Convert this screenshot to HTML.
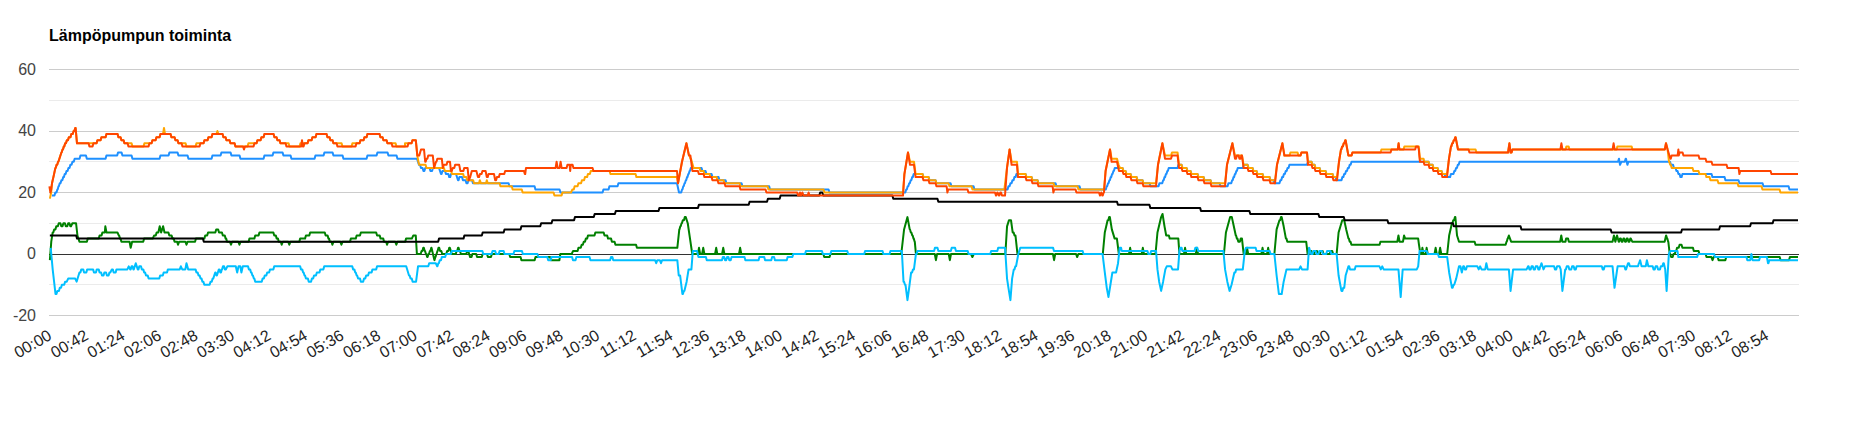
<!DOCTYPE html>
<html lang="fi"><head><meta charset="utf-8"><title>Lämpöpumpun toiminta</title>
<style>html,body{margin:0;padding:0;background:#fff}svg{display:block}text{font-family:"Liberation Sans",sans-serif}</style></head><body>
<svg width="1851" height="426" viewBox="0 0 1851 426">
<rect width="1851" height="426" fill="#ffffff"/>
<text x="49" y="40.5" font-size="16" font-weight="bold" fill="#000000">Lämpöpumpun toiminta</text>
<g shape-rendering="crispEdges">
<rect x="49" y="100" width="1750" height="1" fill="#ebebeb"/>
<rect x="49" y="161" width="1750" height="1" fill="#ebebeb"/>
<rect x="49" y="223" width="1750" height="1" fill="#ebebeb"/>
<rect x="49" y="284" width="1750" height="1" fill="#ebebeb"/>
<rect x="49" y="69" width="1750" height="1" fill="#cccccc"/>
<rect x="49" y="131" width="1750" height="1" fill="#cccccc"/>
<rect x="49" y="192" width="1750" height="1" fill="#cccccc"/>
<rect x="49" y="315" width="1750" height="1" fill="#cccccc"/>
</g>
<rect x="49" y="254" width="1750" height="1" fill="#333333" shape-rendering="crispEdges"/>
<polyline fill="none" stroke="#008000" stroke-width="2" stroke-linejoin="round" points="49.86,260.15 51.27,241.7 52.68,232.47 53.3,232.47 54.16,229.4 55.42,229.4 56.28,226.32 56.9,226.32 57.88,226.32 58.74,223.25 59.72,223.25 60.42,223.25 61.28,226.32 61.97,226.32 62.53,226.32 63.39,223.25 63.94,223.25 64.92,223.25 65.78,226.32 66.76,226.32 67.32,226.32 68.18,223.25 68.73,223.25 69.43,223.25 70.29,226.32 70.99,226.32 72.39,223.25 76.06,223.25 77.46,235.55 79.44,241.7 86.89,241.7 87.75,238.62 97.75,238.62 98.72,238.62 99.58,235.55 100.56,235.55 101.54,235.55 102.4,232.47 103.38,232.47 104.79,232.47 105.35,226.32 106.48,232.47 117.46,232.47 118.87,235.55 119.15,235.55 120.01,238.62 120.56,238.62 121.42,241.7 121.69,241.7 129.58,241.7 130.7,247.85 132.11,241.7 143.23,241.7 144.09,238.62 152.68,238.62 154.08,235.55 155.77,235.55 156.63,232.47 158.31,232.47 159.72,226.32 161.13,232.47 163.1,226.32 164.51,232.47 166.76,232.47 168.44,232.47 169.3,235.55 170.99,235.55 171.61,235.55 172.47,238.62 173.72,238.62 174.58,241.7 175.21,241.7 177.18,241.7 178.03,244.78 179.15,241.7 185.35,241.7 186.48,244.78 187.61,241.7 195.06,241.7 195.92,238.62 203.38,238.62 204.36,238.62 205.22,235.55 206.2,235.55 207.18,235.55 208.04,232.47 209.01,232.47 214.65,232.47 215.34,232.47 216.2,229.4 216.9,229.4 218.16,229.4 219.02,232.47 220.28,232.47 221.96,232.47 222.82,235.55 224.51,235.55 224.78,235.55 225.64,238.62 226.19,238.62 227.05,241.7 227.32,241.7 229.86,241.7 230.99,244.78 232.11,241.7 238.31,241.7 239.44,244.78 240.56,241.7 248.58,241.7 249.44,238.62 252.68,238.62 254.36,238.62 255.22,235.55 256.9,235.55 258.58,235.55 259.44,232.47 261.13,232.47 272.39,232.47 273.37,232.47 274.23,235.55 275.21,235.55 275.84,235.55 276.7,238.62 277.95,238.62 278.81,241.7 279.44,241.7 280.85,241.7 281.69,244.78 282.82,241.7 288.17,241.7 289.3,244.78 290.42,241.7 299.29,241.7 300.15,238.62 303.38,238.62 305.06,238.62 305.92,235.55 307.61,235.55 309.29,235.55 310.15,232.47 311.83,232.47 323.1,232.47 324.78,232.47 325.64,235.55 327.32,235.55 327.6,235.55 328.46,238.62 329.01,238.62 329.87,241.7 330.14,241.7 331.55,241.7 332.39,244.78 333.52,241.7 340.28,241.7 341.41,244.78 342.54,241.7 349.99,241.7 350.85,238.62 354.08,238.62 355.77,238.62 356.63,235.55 358.31,235.55 359.99,235.55 360.85,232.47 362.54,232.47 375.21,232.47 376.19,232.47 377.05,235.55 378.03,235.55 379.71,235.55 380.57,238.62 382.25,238.62 383.23,238.62 384.09,241.7 385.07,241.7 386.2,241.7 387.04,244.78 388.17,241.7 395.21,241.7 396.34,244.78 397.46,241.7 405.2,241.7 406.06,238.62 411.83,238.62 413.24,235.55 414.65,235.55 415.77,235.55 416.9,254 420.28,254 420.7,254 421.56,250.93 422.39,250.93 423.25,247.85 423.66,247.85 423.84,247.85 424.7,250.93 425.06,250.93 425.92,254 426.28,254 427.14,257.07 427.32,257.07 427.6,257.07 428.46,254 429.01,254 429.87,250.93 430.42,250.93 431.28,247.85 431.55,247.85 434.37,260.15 434.46,260.15 435.32,257.07 435.52,257.07 436.38,254 436.58,254 437.44,250.93 437.63,250.93 438.49,247.85 438.59,247.85 439.22,247.85 440.08,250.93 441.33,250.93 442.19,254 442.82,254 445.63,254 446.26,254 447.12,250.93 448.37,250.93 449.23,247.85 449.86,247.85 451.83,254 455.49,254 455.77,254 456.63,250.93 457.18,250.93 458.04,247.85 458.31,247.85 458.58,247.85 459.44,250.93 459.99,250.93 460.85,254 461.13,254 465.35,254 466.33,254 467.19,250.93 468.17,250.93 470.14,257.07 471.54,257.07 472.4,254 473.8,254 476.19,254 477.05,257.07 479.44,257.07 481.82,257.07 482.68,254 485.07,254 487.03,254 487.89,257.07 489.86,257.07 490,257.07 490.98,257.07 491.84,254 492.82,254 495.63,254 498.45,254 501.27,254 509.72,254 509.29,254 510.15,257.07 520.56,257.07 521.42,260.15 534.64,260.15 535.5,257.07 550.13,257.07 550.99,260.15 559.43,260.15 560.29,254 571.69,254 573.1,250.93 575.92,250.93 577.6,250.93 578.46,247.85 580.14,247.85 580.77,247.85 581.63,244.78 582.88,244.78 583.74,241.7 584.37,241.7 584.99,241.7 585.85,238.62 587.11,238.62 587.97,235.55 588.59,235.55 592.82,235.55 594.5,235.55 595.36,232.47 597.04,232.47 602.68,232.47 603.65,232.47 604.51,235.55 605.49,235.55 607.18,235.55 608.04,238.62 609.72,238.62 611.05,238.62 611.91,241.7 614.57,241.7 615.43,244.78 616.76,244.78 636.05,244.78 636.91,247.85 677.32,247.85 679.3,229.4 679.48,229.4 680.34,226.32 680.7,226.32 681.56,223.25 681.92,223.25 682.78,220.18 682.96,220.18 683.94,220.18 684.8,217.1 685.77,217.1 687.75,223.25 690,238.62 692.25,254 697.89,254 699.01,247.85 700.14,254 702.11,254 703.24,247.85 704.37,254 715.07,254 716.2,247.85 717.32,254 722.11,254 723.24,247.85 724.37,254 739.01,254 740.14,247.85 741.27,254 792.82,254 794.23,254 823.37,254 824.23,257.07 829.57,257.07 830.43,254 901.27,254 904.08,229.4 907.46,217.1 909.72,229.4 909.99,229.4 910.85,232.47 911.4,232.47 912.26,235.55 912.54,235.55 912.67,235.55 913.53,238.62 913.8,238.62 914.66,241.7 914.79,241.7 915.92,254 934.79,254 935.92,260.15 937.04,254 939.86,254 940,254 948.73,254 949.86,260.15 950.99,254 970.99,254 972.39,257.07 973.8,254 1005.35,254 1007.04,226.32 1009.01,220.18 1010.99,220.18 1012.68,232.47 1013.65,232.47 1014.51,235.55 1015.49,235.55 1017.46,254 1018.87,254 1052.96,254 1054.08,260.15 1055.21,254 1076.06,254 1077.18,257.07 1078.31,254 1102.82,254 1104.79,232.47 1107.61,220.18 1108.3,220.18 1109.16,217.1 1109.86,217.1 1111.83,229.4 1114.65,238.62 1116.9,238.62 1118.87,254 1120.28,254 1129.01,254 1130.14,247.85 1131.27,254 1141.69,254 1142.82,247.85 1143.94,254 1155.49,254 1157.46,232.47 1161.13,217.1 1162.54,214.03 1164.51,226.32 1166.2,235.55 1168.17,235.55 1168.87,235.55 1169.73,238.62 1170.42,238.62 1176.06,238.62 1178.31,238.62 1179.44,254 1180.85,254 1183.94,254 1185.07,247.85 1186.2,254 1195.77,254 1196.9,247.85 1198.03,254 1223.1,254 1223.94,254 1225.92,232.47 1230.14,217.1 1231.83,217.1 1233.8,226.32 1235.77,235.55 1236.05,235.55 1236.91,238.62 1237.46,238.62 1238.32,241.7 1238.59,241.7 1239.85,241.7 1240.71,238.62 1241.97,238.62 1243.66,254 1244.79,254 1245.92,254 1247.04,247.85 1248.17,254 1261.41,254 1262.54,247.85 1263.66,254 1267.04,254 1268.17,247.85 1269.3,254 1273.8,254 1274.37,254 1276.62,229.4 1279.44,220.18 1280.13,220.18 1280.99,217.1 1281.69,217.1 1283.66,226.32 1285.92,238.62 1286.47,238.62 1287.33,241.7 1287.89,241.7 1306.2,241.7 1307.61,254 1308.58,254 1309.44,250.93 1310.42,250.93 1311.4,250.93 1312.26,254 1313.24,254 1314.22,254 1315.08,250.93 1316.06,250.93 1317.03,250.93 1317.89,254 1318.87,254 1319.85,254 1320.71,250.93 1321.69,250.93 1322.67,250.93 1323.53,254 1324.51,254 1328.73,254 1329.71,254 1330.57,250.93 1331.55,250.93 1332.25,250.93 1333.11,254 1333.8,254 1336.62,254 1338.59,232.47 1342.25,220.18 1344.23,220.18 1346.2,229.4 1348.45,238.62 1348.87,238.62 1349.73,241.7 1350.56,241.7 1351.42,244.78 1351.83,244.78 1379.57,244.78 1380.43,241.7 1390,241.7 1397.32,241.7 1398.45,235.55 1399.58,241.7 1402.96,241.7 1404.08,235.55 1405.21,238.62 1418.17,238.62 1419.01,244.78 1420.42,254 1421.55,254 1422.39,247.85 1423.52,254 1425.77,254 1426.62,247.85 1427.75,254 1434.51,254 1435.63,247.85 1436.76,254 1439.01,254 1440.14,247.85 1441.27,254 1446.34,254 1447.18,254 1449.15,235.55 1451.97,223.25 1452.39,223.25 1453.25,220.18 1454.08,220.18 1454.94,217.1 1455.35,217.1 1457.04,235.55 1459.01,241.7 1474.64,241.7 1475.5,244.78 1505.49,244.78 1505.63,244.78 1506.49,241.7 1506.75,241.7 1507.61,238.62 1507.75,238.62 1508.87,235.55 1510,238.62 1511.13,241.7 1560.14,241.7 1561.27,235.55 1562.39,241.7 1565.49,241.7 1566.06,238.62 1568.03,238.62 1568.87,241.7 1612.54,241.7 1613.94,235.55 1615.35,241.7 1617.04,235.55 1618.73,241.7 1619.15,241.7 1620.01,238.62 1620.42,238.62 1620.84,238.62 1621.7,241.7 1622.11,241.7 1622.53,241.7 1623.39,238.62 1623.8,238.62 1624.22,238.62 1625.08,241.7 1625.49,241.7 1625.91,241.7 1626.77,238.62 1627.18,238.62 1627.6,238.62 1628.46,241.7 1628.87,241.7 1629.43,241.7 1630.29,238.62 1630.85,238.62 1632.25,241.7 1664.65,241.7 1666.06,235.55 1666.19,235.55 1667.05,238.62 1667.32,238.62 1668.18,241.7 1668.31,241.7 1669.72,254 1670.27,254 1671.13,257.07 1671.69,257.07 1672.67,257.07 1673.53,254 1674.51,254 1674.78,254 1675.64,250.93 1676.19,250.93 1677.05,247.85 1677.32,247.85 1678.72,247.85 1679.58,244.78 1680.99,244.78 1681.54,244.78 1682.4,247.85 1682.96,247.85 1692.95,247.85 1693.81,250.93 1698.58,250.93 1699.44,254 1705.63,254 1706.49,257.07 1711.41,257.07 1712.54,260.15 1713.66,257.07 1717.74,257.07 1718.6,260.15 1725.34,260.15 1726.2,257.07 1779.71,257.07 1780.57,260.15 1789.01,260.15 1789.87,257.07 1798,257.07"/>
<polyline fill="none" stroke="#00bfff" stroke-width="2" stroke-linejoin="round" points="50.7,247.85 52.68,269.38 55.49,293.98 56.47,293.98 57.33,290.9 58.31,290.9 58.94,290.9 59.8,287.82 61.05,287.82 61.91,284.75 62.54,284.75 64.22,284.75 65.08,281.68 66.76,281.68 68.17,278.6 75.21,278.6 76.62,281.68 79.44,272.45 80.42,272.45 81.28,269.38 82.25,269.38 83.23,269.38 84.09,272.45 85.07,272.45 86.33,272.45 87.19,269.38 88.45,269.38 92.11,269.38 93.09,269.38 93.95,272.45 94.93,272.45 95.91,272.45 96.77,269.38 97.75,269.38 98.72,269.38 99.58,272.45 100.56,272.45 101.12,272.45 101.98,275.52 102.54,275.52 103.51,275.52 104.37,272.45 105.35,272.45 106.05,272.45 106.91,275.52 107.61,275.52 108.58,275.52 109.44,272.45 110.42,272.45 111.83,269.38 112.81,269.38 113.67,272.45 114.65,272.45 115.63,272.45 116.49,269.38 117.46,269.38 120.28,269.38 127.32,269.38 128.73,266.3 130.14,269.38 130.7,269.38 131.56,266.3 132.11,266.3 132.53,266.3 133.39,269.38 133.8,269.38 135.77,263.23 137.75,269.38 138.44,269.38 139.3,266.3 140,266.3 140.98,266.3 141.84,269.38 142.82,269.38 143.3,269.38 144.16,272.45 145.13,272.45 145.99,275.52 146.48,275.52 147.74,275.52 148.6,278.6 149.86,278.6 158.31,278.6 159.29,278.6 160.15,275.52 161.13,275.52 162.81,275.52 163.67,272.45 165.35,272.45 167.03,272.45 167.89,269.38 169.58,269.38 179.72,269.38 180.85,266.3 182.25,269.38 185.35,269.38 186.48,263.23 188.17,269.38 194.93,269.38 195.56,269.38 196.42,272.45 197.67,272.45 198.53,275.52 199.15,275.52 199.66,275.52 200.52,278.6 201.54,278.6 202.4,281.68 203.42,281.68 204.28,284.75 204.79,284.75 209.01,284.75 209.64,284.75 210.5,281.68 211.75,281.68 212.61,278.6 213.24,278.6 215.21,272.45 215.63,272.45 216.49,275.52 216.9,275.52 218.87,269.38 219.43,269.38 220.29,272.45 220.85,272.45 220.98,272.45 221.84,269.38 222.11,269.38 222.97,266.3 223.1,266.3 224.08,266.3 224.94,269.38 225.92,269.38 227.32,266.3 235.77,266.3 237.18,272.45 238.59,266.3 240.28,266.3 241.41,272.45 242.82,266.3 247.04,266.3 248.02,266.3 248.88,269.38 249.86,269.38 250.13,269.38 250.99,272.45 251.54,272.45 252.4,275.52 252.95,275.52 253.81,278.6 254.36,278.6 255.22,281.68 255.49,281.68 261.13,281.68 261.75,281.68 262.61,278.6 263.87,278.6 264.73,275.52 265.35,275.52 266.33,275.52 267.19,272.45 269.15,272.45 270.01,269.38 270.99,269.38 273.37,269.38 274.23,266.3 276.62,266.3 299.15,266.3 300.13,266.3 300.99,269.38 301.97,269.38 302.25,269.38 303.11,272.45 303.65,272.45 304.51,275.52 305.06,275.52 305.92,278.6 306.2,278.6 307.88,278.6 308.74,281.68 310.42,281.68 311.05,281.68 311.91,278.6 313.16,278.6 314.02,275.52 314.65,275.52 315.98,275.52 316.84,272.45 319.5,272.45 320.36,269.38 321.69,269.38 323.37,269.38 324.23,266.3 325.92,266.3 351.27,266.3 352.25,266.3 353.11,269.38 354.08,269.38 354.36,269.38 355.22,272.45 355.77,272.45 356.63,275.52 357.18,275.52 358.04,278.6 358.31,278.6 359.99,278.6 360.85,281.68 362.54,281.68 363.16,281.68 364.02,278.6 365.27,278.6 366.13,275.52 366.76,275.52 368.09,275.52 368.95,272.45 371.61,272.45 372.47,269.38 373.8,269.38 376.19,269.38 377.05,266.3 379.44,266.3 406.2,266.3 409.01,275.52 409.64,275.52 410.5,278.6 411.75,278.6 412.61,281.68 413.24,281.68 416.06,281.68 418.03,266.3 427.32,266.3 428.3,266.3 429.16,263.23 430.14,263.23 435.77,263.23 437.18,266.3 437.46,266.3 438.32,263.23 438.87,263.23 439.73,260.15 440,260.15 440.98,260.15 441.84,257.07 442.82,257.07 445.2,257.07 446.06,254 448.45,254 450.84,254 451.7,250.93 454.08,250.93 482.39,250.93 483.25,254 490,254 491.68,254 492.54,250.93 494.23,250.93 495.2,250.93 496.06,254 497.04,254 498.72,254 499.58,250.93 501.27,250.93 503.65,250.93 504.51,254 506.9,254 506.47,254 507.33,254 513.51,254 514.37,250.93 521.96,250.93 522.82,254 537.46,254 538.32,257.07 547.32,257.07 548.18,260.15 550.7,260.15 551.56,257.07 572.11,257.07 572.97,260.15 575.49,260.15 576.35,257.07 589.57,257.07 590.43,260.15 610.13,260.15 610.99,257.07 612.39,257.07 613.25,260.15 655.07,260.15 656.2,263.23 657.32,260.15 659.86,260.15 660.99,263.23 662.11,260.15 676.48,260.15 677.32,260.15 678.73,275.52 680.14,275.52 682.39,293.98 682.95,293.98 683.81,290.9 684.37,290.9 686.62,281.68 688.59,269.38 691.41,269.38 692.82,250.93 697.04,250.93 698.45,257.07 705.91,257.07 706.77,260.15 721.96,260.15 722.82,257.07 724.22,257.07 725.08,260.15 726.19,260.15 727.05,257.07 728.44,257.07 729.3,260.15 730.7,260.15 731.56,257.07 744.5,257.07 745.36,260.15 758.58,260.15 759.44,257.07 764.22,257.07 765.08,260.15 771.26,260.15 772.12,257.07 774.08,257.07 774.94,260.15 786.75,260.15 787.61,257.07 792.39,257.07 793.25,254 805.06,254 805.92,250.93 821.96,250.93 822.82,254 830.42,254 831.28,250.93 847.32,250.93 848.18,254 864.22,254 865.08,250.93 882.53,250.93 883.39,254 889.57,254 890.43,250.93 901.27,250.93 901.83,250.93 903.52,281.68 904.08,281.68 904.94,284.75 905.49,284.75 907.46,300.12 909.15,287.82 911.13,272.45 912.11,272.45 912.97,269.38 913.94,269.38 915.92,254 916.61,254 917.47,250.93 918.17,250.93 934.08,250.93 934.94,247.85 937.46,247.85 938.32,250.93 940,250.93 950.84,250.93 951.7,247.85 955.06,247.85 955.92,250.93 967.74,250.93 968.6,254 990.27,254 991.13,250.93 997.32,250.93 998.18,247.85 1005.07,247.85 1007.04,278.6 1008.45,287.82 1010.42,300.12 1012.11,278.6 1013.8,269.38 1014.5,269.38 1015.36,266.3 1016.06,266.3 1018.31,254 1020.28,247.85 1053.09,247.85 1053.95,250.93 1082.67,250.93 1083.53,254 1102.54,254 1104.79,272.45 1106.76,287.82 1108.45,297.05 1110.42,284.75 1112.39,272.45 1116.06,272.45 1118.03,263.23 1119.72,247.85 1121.13,247.85 1121.69,250.93 1147.46,250.93 1148.32,254 1150.27,254 1151.13,250.93 1156.06,250.93 1157.46,269.38 1159.15,281.68 1161.13,290.9 1163.1,281.68 1165.35,269.38 1166.76,266.3 1170.99,266.3 1172.39,269.38 1178.03,269.38 1179.44,250.93 1180.28,247.85 1181.69,247.85 1182.25,250.93 1194.5,250.93 1195.36,247.85 1197.32,247.85 1198.18,250.93 1223.38,250.93 1225.07,269.38 1227.32,281.68 1229.58,290.9 1231.55,284.75 1234.37,272.45 1235.34,272.45 1236.2,269.38 1237.18,269.38 1242.82,269.38 1244.79,250.93 1245.92,247.85 1255.63,247.85 1256.49,250.93 1269.71,250.93 1270.57,254 1274.37,254 1276.62,275.52 1278.87,293.98 1281.69,293.98 1283.66,281.68 1286.48,269.38 1299.15,269.38 1300.56,266.3 1301.97,269.38 1307.61,269.38 1309.01,247.85 1309.15,247.85 1310.01,250.93 1310.27,250.93 1311.13,254 1311.27,254 1312.53,254 1313.39,250.93 1314.65,250.93 1315.63,250.93 1316.49,254 1317.46,254 1318.44,254 1319.3,250.93 1320.28,250.93 1321.96,250.93 1322.82,254 1324.51,254 1326.19,254 1327.05,250.93 1328.73,250.93 1330.42,250.93 1331.28,254 1332.96,254 1335.77,254 1336.62,254 1338.59,275.52 1341.41,290.9 1342.39,290.9 1343.25,287.82 1344.23,287.82 1345.63,275.52 1348.45,266.3 1349.15,266.3 1350.01,269.38 1350.7,269.38 1354.08,269.38 1354.78,269.38 1355.64,266.3 1356.34,266.3 1358.31,266.3 1378.03,266.3 1379.44,266.3 1380.85,269.38 1382.25,266.3 1383.66,269.38 1385.07,269.38 1389.86,269.38 1390,269.38 1398.45,269.38 1400.7,297.05 1402.68,269.38 1416.76,269.38 1418.17,266.3 1419.58,250.93 1426.75,250.93 1427.61,254 1438.02,254 1438.88,257.07 1447.18,257.07 1449.15,272.45 1451.97,287.82 1452.67,287.82 1453.53,284.75 1454.23,284.75 1456.2,278.6 1459.01,266.3 1460.42,266.3 1461.83,272.45 1463.24,266.3 1463.94,266.3 1464.8,269.38 1465.49,269.38 1466.05,269.38 1466.91,266.3 1467.46,266.3 1475.92,266.3 1477.32,266.3 1478.73,269.38 1480.14,266.3 1481.55,269.38 1485.21,269.38 1486.34,263.23 1487.75,269.38 1508.87,269.38 1510.56,290.9 1513.1,269.38 1526.62,269.38 1528.03,266.3 1528.58,266.3 1529.44,269.38 1530,269.38 1530.7,269.38 1531.56,266.3 1532.25,266.3 1532.81,266.3 1533.67,269.38 1534.23,269.38 1534.92,269.38 1535.78,266.3 1536.48,266.3 1537.46,266.3 1538.32,269.38 1539.3,269.38 1539.43,269.38 1540.29,266.3 1540.56,266.3 1541.42,263.23 1541.55,263.23 1543.52,269.38 1544.93,266.3 1553.38,266.3 1554.08,266.3 1554.94,269.38 1555.63,269.38 1556.19,269.38 1557.05,266.3 1557.61,266.3 1559.58,266.3 1560.7,269.38 1562.39,290.9 1565.21,269.38 1565.91,269.38 1566.77,266.3 1567.46,266.3 1568.44,266.3 1569.3,269.38 1570.28,269.38 1571.26,269.38 1572.12,266.3 1573.1,266.3 1573.65,266.3 1574.51,269.38 1575.07,269.38 1575.77,269.38 1576.63,266.3 1577.32,266.3 1601.27,266.3 1601.82,266.3 1602.68,269.38 1603.24,269.38 1603.8,269.38 1604.66,266.3 1605.21,266.3 1612.54,266.3 1614.51,287.82 1617.61,266.3 1620.99,266.3 1623.8,266.3 1624.5,266.3 1625.36,269.38 1626.06,269.38 1628.03,263.23 1629.01,263.23 1629.87,266.3 1630.85,266.3 1633.66,266.3 1637.89,266.3 1638.02,266.3 1638.88,263.23 1639.15,263.23 1640.01,260.15 1640.14,260.15 1641.55,266.3 1645.77,266.3 1646.9,260.15 1648.31,266.3 1651.97,266.3 1652.67,266.3 1653.53,269.38 1654.23,269.38 1654.78,269.38 1655.64,266.3 1656.2,266.3 1657.18,266.3 1658.04,269.38 1659.01,269.38 1659.99,269.38 1660.85,266.3 1661.83,266.3 1662.39,266.3 1663.25,263.23 1663.8,263.23 1665.21,269.38 1666.62,290.9 1668.87,254 1670.28,250.93 1677.46,250.93 1678.32,257.07 1697.18,257.07 1698.04,254 1714.08,254 1714.94,257.07 1746.47,257.07 1747.33,260.15 1750.28,260.15 1751.41,254 1752.54,260.15 1759.15,260.15 1760.01,257.07 1766.9,257.07 1768.03,263.23 1768.44,263.23 1769.3,260.15 1769.72,260.15 1798,260.15"/>
<polyline fill="none" stroke="#000000" stroke-width="2" stroke-linejoin="round" points="49.86,235.55 76.19,235.55 77.05,238.62 202.95,238.62 203.81,241.7 438.16,241.7 439.02,238.62 463.51,238.62 464.37,235.55 481.82,235.55 482.68,232.47 490,232.47 503.65,232.47 504.51,229.4 520.56,229.4 521.42,226.32 540.27,226.32 541.13,223.25 551.54,223.25 552.4,220.18 574.08,220.18 574.94,217.1 593.8,217.1 594.66,214.03 614.92,214.03 615.78,210.95 658.58,210.95 659.44,207.88 698.02,207.88 698.88,204.8 748.72,204.8 749.58,201.72 767.03,201.72 767.89,198.65 779.71,198.65 780.57,195.57 819.3,195.57 820.14,192.5 822.39,192.5 823.24,195.57 892.39,195.57 893.25,198.65 937.46,198.65 938.32,201.72 940,201.72 1117.03,201.72 1117.89,204.8 1149.43,204.8 1150.29,207.88 1200.13,207.88 1200.99,210.95 1249.43,210.95 1250.29,214.03 1318.44,214.03 1319.3,217.1 1343.8,217.1 1344.66,220.18 1387.46,220.18 1388.32,223.25 1390,223.25 1452.95,223.25 1453.81,226.32 1520.56,226.32 1521.42,229.4 1610.7,229.4 1611.56,232.47 1681.12,232.47 1681.98,229.4 1719.15,229.4 1720.01,226.32 1750.13,226.32 1750.99,223.25 1772.67,223.25 1773.53,220.18 1798,220.18"/>
<polyline fill="none" stroke="#1e90ff" stroke-width="2" stroke-linejoin="round" points="52,195.57 52.5,195.57 53.5,195.57 54.47,195.57 55.33,192.5 56.3,192.5 56.47,192.5 57.33,189.43 57.67,189.43 58.53,186.35 58.87,186.35 59.73,183.28 59.9,183.28 60.52,183.28 61.38,180.2 62,180.2 62.34,180.2 63.2,177.12 63.89,177.12 64.75,174.05 65.1,174.05 65.64,174.05 66.5,170.97 67.57,170.97 68.43,167.9 69.5,167.9 70.36,164.82 70.9,164.82 71.57,164.82 72.43,161.75 73.77,161.75 74.63,158.68 75.3,158.68 77.4,158.68 79.57,158.68 80.43,155.6 85.97,155.6 86.83,158.68 105.57,158.68 106.43,155.6 117.17,155.6 118.03,152.53 121.57,152.53 122.43,155.6 131.57,155.6 132.43,158.68 159.57,158.68 160.43,155.6 168.57,155.6 169.43,152.53 177.57,152.53 178.43,155.6 187.57,155.6 188.43,158.68 211.57,158.68 212.43,155.6 220.57,155.6 221.43,152.53 230.57,152.53 231.43,155.6 239.57,155.6 240.43,158.68 263.57,158.68 264.43,155.6 272.57,155.6 273.43,152.53 282.57,152.53 283.43,155.6 290.57,155.6 291.43,158.68 314.57,158.68 315.43,155.6 323.57,155.6 324.43,152.53 332.57,152.53 333.43,155.6 342.57,155.6 343.43,158.68 366.57,158.68 367.43,155.6 376.57,155.6 377.43,152.53 387.57,152.53 388.43,155.6 396.57,155.6 397.43,158.68 405,158.68 417,158.68 419,164.82 420.07,164.82 420.93,167.9 422,167.9 422.57,167.9 423.43,170.97 424,170.97 424.37,170.97 425.23,167.9 425.6,167.9 429,167.9 429.57,167.9 430.43,170.97 431,170.97 432.07,170.97 432.93,167.9 434,167.9 439,167.9 441,174.05 441.57,174.05 442.43,170.97 443,170.97 445.07,170.97 445.93,174.05 448,174.05 448.37,174.05 449.23,177.12 449.6,177.12 450.17,177.12 451.03,174.05 451.6,174.05 456,174.05 458,180.2 458.57,180.2 459.43,177.12 460,177.12 462.07,177.12 462.93,180.2 465,180.2 465.57,180.2 466.43,183.28 467,183.28 467.57,183.28 468.43,180.2 469,180.2 472.07,180.2 472.93,183.28 476,183.28 496,183.28 508.57,183.28 509.43,186.35 534.57,186.35 535.43,189.43 559.57,189.43 560.43,192.5 602.57,192.5 603.43,189.43 608.57,189.43 609.43,186.35 617.57,186.35 618.43,183.28 677,183.28 679,192.5 681,192.5 681.2,192.5 682.05,189.43 682.45,189.43 683.3,186.35 683.7,186.35 684.55,183.28 684.95,183.28 685.8,180.2 686.2,180.2 687.05,177.12 687.45,177.12 688.3,174.05 688.7,174.05 689.55,170.97 689.95,170.97 690.8,167.9 691,167.9 701.57,167.9 702.43,170.97 705.57,170.97 706.43,174.05 711.57,174.05 712.43,177.12 718.57,177.12 719.43,180.2 725.57,180.2 726.43,183.28 741.57,183.28 742.43,186.35 765,186.35 769.17,186.35 770.03,189.43 828.57,189.43 829.43,192.5 905,192.5 905.32,192.5 906.18,189.43 906.82,189.43 907.68,186.35 908.32,186.35 909.18,183.28 909.82,183.28 910.68,180.2 911.32,180.2 912.18,177.12 912.82,177.12 913.68,174.05 914,174.05 915.6,174.05 922.57,174.05 923.43,177.12 928.57,177.12 929.43,180.2 935.57,180.2 936.43,183.28 950.57,183.28 951.43,186.35 973.57,186.35 974.43,189.43 1007,189.43 1007.57,189.43 1008.43,186.35 1009.57,186.35 1010.43,183.28 1011.57,183.28 1012.43,180.2 1013.57,180.2 1014.43,177.12 1015.57,177.12 1016.43,174.05 1017,174.05 1025.57,174.05 1026.43,177.12 1031.57,177.12 1032.43,180.2 1037.57,180.2 1038.43,183.28 1055.57,183.28 1056.43,186.35 1079.57,186.35 1080.43,189.43 1105.6,189.43 1105.84,189.43 1106.7,186.35 1107.18,186.35 1108.04,183.28 1108.53,183.28 1109.39,180.2 1109.87,180.2 1110.73,177.12 1111.21,177.12 1112.07,174.05 1112.56,174.05 1113.42,170.97 1113.9,170.97 1114.76,167.9 1115,167.9 1118,167.9 1120,167.9 1122.57,167.9 1123.43,170.97 1125.57,170.97 1126.43,174.05 1130.57,174.05 1131.43,177.12 1136.57,177.12 1137.43,180.2 1142.57,180.2 1143.43,183.28 1149.57,183.28 1150.43,186.35 1158.6,186.35 1159.4,183.28 1162,183.28 1162.27,183.28 1163.13,180.2 1163.67,180.2 1164.53,177.12 1165.07,177.12 1165.93,174.05 1166.47,174.05 1167.33,170.97 1167.87,170.97 1168.73,167.9 1169,167.9 1177.6,167.9 1178.4,164.82 1181.57,164.82 1182.43,167.9 1186.57,167.9 1187.43,170.97 1190.57,170.97 1191.43,174.05 1197.57,174.05 1198.43,177.12 1203.57,177.12 1204.43,180.2 1210.57,180.2 1211.43,183.28 1219.57,183.28 1220.43,186.35 1227.6,186.35 1228.4,183.28 1231,183.28 1231.27,183.28 1232.13,180.2 1232.67,180.2 1233.53,177.12 1234.07,177.12 1234.93,174.05 1235.47,174.05 1236.33,170.97 1236.87,170.97 1237.73,167.9 1238,167.9 1243,167.9 1243.6,164.82 1247.57,164.82 1248.43,167.9 1252.57,167.9 1253.43,170.97 1256.57,170.97 1257.43,174.05 1262.57,174.05 1263.43,177.12 1269.57,177.12 1270.43,180.2 1273.57,180.2 1274.43,183.28 1279,183.28 1279.47,183.28 1280.33,180.2 1281.27,180.2 1282.13,177.12 1283.07,177.12 1283.93,174.05 1284.87,174.05 1285.73,170.97 1286.67,170.97 1287.53,167.9 1288,167.9 1288.57,167.9 1289.43,164.82 1290,164.82 1307,164.82 1308,161.75 1311.57,161.75 1312.43,164.82 1314.57,164.82 1315.43,167.9 1319.57,167.9 1320.43,170.97 1325.57,170.97 1326.43,174.05 1332.57,174.05 1333.43,177.12 1335.57,177.12 1336.43,180.2 1341,180.2 1341.49,180.2 1342.35,177.12 1343.32,177.12 1344.18,174.05 1345.15,174.05 1346.01,170.97 1346.99,170.97 1347.85,167.9 1348.82,167.9 1349.68,164.82 1350.65,164.82 1351.51,161.75 1352,161.75 1428.57,161.75 1429.43,164.82 1432.57,164.82 1433.43,167.9 1437.57,167.9 1438.43,170.97 1441.57,170.97 1442.43,174.05 1444.57,174.05 1445.43,177.12 1448,177.12 1450.07,177.12 1450.93,174.05 1453,174.05 1453.44,174.05 1454.31,170.97 1455.19,170.97 1456.06,167.9 1456.94,167.9 1457.81,164.82 1458.69,164.82 1459.56,161.75 1460,161.75 1485,161.75 1618,161.75 1619,158.68 1620,164.82 1621.4,161.75 1623,161.75 1624.4,161.75 1624.77,161.75 1625.63,158.68 1626,158.68 1627.4,164.82 1628.4,161.75 1669,161.75 1670.07,161.75 1670.93,164.82 1673.07,164.82 1673.93,167.9 1675,167.9 1675.57,167.9 1676.43,170.97 1677.57,170.97 1678.43,174.05 1679.57,174.05 1680.43,177.12 1681,177.12 1681.57,177.12 1682.43,174.05 1683,174.05 1711.57,174.05 1712.43,177.12 1724.57,177.12 1725.43,180.2 1738.57,180.2 1739.43,183.28 1762.57,183.28 1763.43,186.35 1788.57,186.35 1789.43,189.43 1798,189.43"/>
<polyline fill="none" stroke="#ffa500" stroke-width="2" stroke-linejoin="round" points="49.9,198.65 51.2,192.5 52,183.28 53.4,177.12 55.4,167.9 55.72,167.9 56.58,164.82 57.22,164.82 58.08,161.75 58.4,161.75 61.4,152.53 61.64,152.53 62.5,149.45 62.97,149.45 63.83,146.38 64.3,146.38 65.16,143.3 65.4,143.3 65.97,143.3 66.83,140.22 67.97,140.22 68.83,137.15 69.4,137.15 70.47,137.15 71.33,134.07 72.4,134.07 72.77,134.07 73.63,131 74.37,131 75.23,127.92 75.6,127.92 77,143.3 96.57,143.3 97.43,140.22 100.57,140.22 101.43,137.15 105.57,137.15 106.43,134.07 117.57,134.07 118.43,137.15 120.57,137.15 121.43,140.22 123.57,140.22 124.43,143.3 131.57,143.3 132.43,146.38 143.57,146.38 144.43,143.3 151.57,143.3 152.43,140.22 155.57,140.22 156.43,137.15 159.57,137.15 160.43,134.07 163,134.07 164,127.92 165,134.07 170.57,134.07 171.43,137.15 174.57,137.15 175.43,140.22 177.57,140.22 178.43,143.3 185.57,143.3 186.43,146.38 195.57,146.38 196.43,143.3 203.57,143.3 204.43,140.22 207.57,140.22 208.43,137.15 211.57,137.15 212.43,134.07 216.4,134.07 217.4,131 218.4,134.07 222.57,134.07 223.43,137.15 225.57,137.15 226.43,140.22 229.57,140.22 230.43,143.3 234.57,143.3 235.43,146.38 247.57,146.38 248.43,143.3 256.57,143.3 257.43,140.22 260.57,140.22 261.43,137.15 263.57,137.15 264.43,134.07 273.57,134.07 274.43,137.15 276.57,137.15 277.43,140.22 279.57,140.22 280.43,143.3 288.57,143.3 289.43,146.38 299.57,146.38 300.43,143.3 307.57,143.3 308.43,140.22 311.57,140.22 312.43,137.15 315.57,137.15 316.43,134.07 326.57,134.07 327.43,137.15 329.57,137.15 330.43,140.22 332.57,140.22 333.43,143.3 341.57,143.3 342.43,146.38 351.57,146.38 352.43,143.3 359.57,143.3 360.43,140.22 363.57,140.22 364.43,137.15 366.57,137.15 367.43,134.07 379.57,134.07 380.43,137.15 382.57,137.15 383.43,140.22 386.57,140.22 387.43,143.3 395.57,143.3 396.43,146.38 405,146.38 405,143.3 405.43,143.3 411.57,143.3 412.43,140.22 415.8,140.22 417.32,155.6 418.4,161.75 419.2,164.82 425.57,164.82 426.43,167.9 443.97,167.9 444.83,170.97 451.17,170.97 452.03,174.05 463.17,174.05 464.03,177.12 466.37,177.12 467.23,180.2 473.17,180.2 474.03,183.28 479,183.28 479.8,180.2 481,183.28 486,183.28 486.8,180.2 487.8,183.28 499.57,183.28 500.43,186.35 511.77,186.35 512.63,189.43 521.77,189.43 522.63,192.5 553.57,192.5 554.43,195.57 561.57,195.57 562.43,192.5 571,192.5 572.4,189.43 573.77,189.43 574.63,186.35 576,186.35 577.57,186.35 578.43,183.28 580,183.28 581.07,183.28 581.93,180.2 583,180.2 584.07,180.2 584.93,177.12 586,177.12 587.07,177.12 587.93,174.05 589,174.05 589.87,174.05 590.73,170.97 591.6,170.97 593.6,170.97 609.57,170.97 610.43,174.05 635.57,174.05 636.43,177.12 677,177.12 678,183.28 682,161.75 686.4,143.3 689,155.6 689.57,155.6 690.43,158.68 691,158.68 693.6,167.9 699.57,167.9 700.43,170.97 703.57,170.97 704.43,174.05 709.57,174.05 710.43,177.12 716.57,177.12 717.43,180.2 723.57,180.2 724.43,183.28 739.57,183.28 740.43,186.35 765,186.35 767.57,186.35 768.43,189.43 823.57,189.43 824.43,192.5 903,192.5 904.4,174.05 908,152.53 910,161.75 914,161.75 915.6,174.05 922.57,174.05 923.43,177.12 928.57,177.12 929.43,180.2 935.57,180.2 936.43,183.28 948.57,183.28 949.43,186.35 971.57,186.35 972.43,189.43 1004.4,189.43 1007,167.9 1009.6,149.45 1011.6,161.75 1017,161.75 1018,174.05 1025.57,174.05 1026.43,177.12 1031.57,177.12 1032.43,180.2 1037.57,180.2 1038.43,183.28 1053.57,183.28 1054.43,186.35 1077.57,186.35 1078.43,189.43 1104,189.43 1105.6,170.97 1110,149.45 1111.6,158.68 1117,158.68 1118.6,164.82 1120,167.9 1122.57,167.9 1123.43,170.97 1125.57,170.97 1126.43,174.05 1130.57,174.05 1131.43,177.12 1136.57,177.12 1137.43,180.2 1142.57,180.2 1143.43,183.28 1156,183.28 1158,164.82 1162.4,143.3 1165,155.6 1171,155.6 1172,152.53 1177.6,152.53 1179,164.82 1181.57,164.82 1182.43,167.9 1186.57,167.9 1187.43,170.97 1190.57,170.97 1191.43,174.05 1197.57,174.05 1198.43,177.12 1203.57,177.12 1204.43,180.2 1210.57,180.2 1211.43,183.28 1225,183.28 1227,164.82 1232.4,143.3 1235,155.6 1242,155.6 1243.6,164.82 1247.57,164.82 1248.43,167.9 1252.57,167.9 1253.43,170.97 1256.57,170.97 1257.43,174.05 1262.57,174.05 1263.43,177.12 1269.57,177.12 1270.43,180.2 1275,180.2 1277,164.82 1282.4,143.3 1284.4,155.6 1289.57,155.6 1290.43,152.53 1297.57,152.53 1298.43,155.6 1300.57,155.6 1301.43,152.53 1307,152.53 1308,161.75 1311.57,161.75 1312.43,164.82 1314.57,164.82 1315.43,167.9 1319.57,167.9 1320.43,170.97 1325.57,170.97 1326.43,174.05 1332.57,174.05 1333.43,177.12 1337,177.12 1339,161.75 1341,149.45 1341.34,149.45 1342.2,146.38 1342.87,146.38 1343.73,143.3 1344.4,143.3 1345.26,140.22 1345.6,140.22 1348.4,155.6 1351,155.6 1351.57,155.6 1352.43,152.53 1380.57,152.53 1381.43,149.45 1397.8,149.45 1398.6,143.3 1399.4,149.45 1403.57,149.45 1404.43,146.38 1418,146.38 1418.8,146.38 1419.6,155.6 1420,158.68 1423.57,158.68 1424.43,161.75 1428.57,161.75 1429.43,164.82 1432.57,164.82 1433.43,167.9 1437.57,167.9 1438.43,170.97 1441.57,170.97 1442.43,174.05 1447,174.05 1449,158.68 1451,146.38 1451.34,146.38 1452.2,143.3 1452.87,143.3 1453.73,140.22 1454.4,140.22 1455.26,137.15 1455.6,137.15 1458,149.45 1475.57,149.45 1476.43,152.53 1485,152.53 1508,152.53 1509.4,143.3 1510.6,152.53 1511.57,152.53 1512.43,149.45 1565.57,149.45 1566.43,146.38 1568.57,146.38 1569.43,149.45 1616.57,149.45 1617.43,146.38 1631.57,146.38 1632.43,149.45 1664.8,149.45 1666,143.3 1667.6,149.45 1669,161.75 1669.32,161.75 1670.18,164.82 1670.82,164.82 1671.68,167.9 1672,167.9 1692.57,167.9 1693.43,170.97 1698.57,170.97 1699.43,174.05 1705.57,174.05 1706.43,177.12 1709.57,177.12 1710.43,180.2 1717.57,180.2 1718.43,183.28 1737.57,183.28 1738.43,186.35 1761.57,186.35 1762.43,189.43 1779.57,189.43 1780.43,192.5 1798,192.5"/>
<polyline fill="none" stroke="#ff4500" stroke-width="2" stroke-linejoin="round" points="49.4,186.35 50.4,192.5 51.2,189.43 52,183.28 53.4,177.12 55.4,167.9 55.72,167.9 56.58,164.82 57.22,164.82 58.08,161.75 58.4,161.75 61.4,152.53 61.64,152.53 62.5,149.45 62.97,149.45 63.83,146.38 64.3,146.38 65.16,143.3 65.4,143.3 65.97,143.3 66.83,140.22 67.97,140.22 68.83,137.15 69.4,137.15 70.47,137.15 71.33,134.07 72.4,134.07 72.77,134.07 73.63,131 74.37,131 75.23,127.92 75.6,127.92 77,143.3 88.57,143.3 89.43,146.38 92.57,146.38 93.43,143.3 96.57,143.3 97.43,140.22 100.57,140.22 101.43,137.15 105.57,137.15 106.43,134.07 117.57,134.07 118.43,137.15 120.57,137.15 121.43,140.22 123.57,140.22 124.43,143.3 127.57,143.3 128.43,146.38 148.57,146.38 149.43,143.3 151.57,143.3 152.43,140.22 155.57,140.22 156.43,137.15 159.57,137.15 160.43,134.07 170.57,134.07 171.43,137.15 174.57,137.15 175.43,140.22 177.57,140.22 178.43,143.3 181.57,143.3 182.43,146.38 199.57,146.38 200.43,143.3 203.57,143.3 204.43,140.22 207.57,140.22 208.43,137.15 211.57,137.15 212.43,134.07 222.57,134.07 223.43,137.15 225.57,137.15 226.43,140.22 229.57,140.22 230.43,143.3 234.57,143.3 235.43,146.38 243,146.38 244,149.45 245,146.38 253.57,146.38 254.43,143.3 256.57,143.3 257.43,140.22 260.57,140.22 261.43,137.15 263.57,137.15 264.43,134.07 273.57,134.07 274.43,137.15 276.57,137.15 277.43,140.22 279.57,140.22 280.43,143.3 285.57,143.3 286.43,146.38 301.2,146.38 302,140.22 302.8,146.38 303.57,146.38 304.43,143.3 307.57,143.3 308.43,140.22 311.57,140.22 312.43,137.15 315.57,137.15 316.43,134.07 326.57,134.07 327.43,137.15 329.57,137.15 330.43,140.22 332.57,140.22 333.43,143.3 336.57,143.3 337.43,146.38 355.57,146.38 356.43,143.3 359.57,143.3 360.43,140.22 363.57,140.22 364.43,137.15 366.57,137.15 367.43,134.07 379.57,134.07 380.43,137.15 382.57,137.15 383.43,140.22 386.57,140.22 387.43,143.3 391.57,143.3 392.43,146.38 405,146.38 407.57,146.38 408.43,143.3 411.57,143.3 412.43,140.22 415.8,140.22 417.32,155.6 419.2,155.6 421,149.45 424,149.45 425.2,161.75 425.67,161.75 426.53,158.68 427,158.68 427.37,158.68 428.23,155.6 428.6,155.6 432.8,155.6 434.12,167.9 436,161.75 436.47,161.75 437.33,158.68 437.8,158.68 441.8,158.68 442.8,167.9 443.9,164.82 446.6,164.82 447.4,161.75 450,161.75 450.92,170.97 451.83,170.97 452.69,167.9 453.6,167.9 454.27,167.9 455.13,164.82 455.8,164.82 459.2,164.82 460.4,170.97 463.4,170.97 464.2,167.9 467.6,167.9 468.8,180.2 470.2,177.12 471.8,170.97 476.4,170.97 477.94,177.12 479.04,177.12 479.9,174.05 481,174.05 481.57,174.05 482.43,170.97 483,170.97 485.6,170.97 486.8,177.12 487.67,177.12 488.53,174.05 489.4,174.05 491,174.05 494,174.05 495.2,180.2 496.07,180.2 496.93,177.12 497.8,177.12 498.87,177.12 499.73,174.05 500.8,174.05 503.2,174.05 504.27,174.05 505.13,170.97 506.2,170.97 523.6,170.97 523.97,170.97 524.83,174.05 525.2,174.05 526,167.9 555.6,167.9 556.6,161.75 557.6,167.9 559.6,167.9 560.6,161.75 561.6,167.9 566.57,167.9 567.43,164.82 569.6,164.82 570.2,170.97 570.8,164.82 572.57,164.82 573.43,167.9 592.57,167.9 593.43,170.97 677,170.97 678,183.28 682,161.75 686.4,143.3 689,155.6 690.4,155.6 692.4,170.97 697.97,170.97 698.83,174.05 703.57,174.05 704.43,177.12 711.57,177.12 712.43,180.2 717.57,180.2 718.43,183.28 724.57,183.28 725.43,186.35 739.57,186.35 740.43,189.43 765,189.43 765.57,189.43 766.43,192.5 797.17,192.5 798.03,195.57 799,195.57 800,192.5 801,195.57 802.4,192.5 803.6,195.57 807.6,195.57 808.6,192.5 809.6,195.57 903,195.57 904.4,174.05 908,152.53 910,164.82 914,164.82 915.6,177.12 922.57,177.12 923.43,180.2 928.57,180.2 929.43,183.28 935.57,183.28 936.43,186.35 946.6,186.35 947.4,192.5 948.2,189.43 967.57,189.43 968.43,192.5 995,192.5 996,195.57 996.37,195.57 997.23,192.5 997.6,192.5 999,195.57 999.37,195.57 1000.23,192.5 1000.6,192.5 1001.07,192.5 1001.93,195.57 1002.4,195.57 1005,195.57 1007,167.9 1009.6,149.45 1011.6,164.82 1017,164.82 1018,177.12 1025.57,177.12 1026.43,180.2 1031.57,180.2 1032.43,183.28 1037.57,183.28 1038.43,186.35 1052.6,186.35 1053.4,192.5 1054.2,189.43 1075.57,189.43 1076.43,192.5 1099,192.5 1100,195.57 1101.2,192.5 1102.4,195.57 1102.77,195.57 1103.63,192.5 1104,192.5 1105.6,170.97 1110,149.45 1111.6,161.75 1117,161.75 1119,170.97 1120,170.97 1122.57,170.97 1123.43,174.05 1125.57,174.05 1126.43,177.12 1130.57,177.12 1131.43,180.2 1136.57,180.2 1137.43,183.28 1142.57,183.28 1143.43,186.35 1156,186.35 1158,164.82 1162.4,143.3 1165,158.68 1171,158.68 1172,155.6 1177.6,155.6 1179,167.9 1181.57,167.9 1182.43,170.97 1186.57,170.97 1187.43,174.05 1190.57,174.05 1191.43,177.12 1197.57,177.12 1198.43,180.2 1203.57,180.2 1204.43,183.28 1210.57,183.28 1211.43,186.35 1225,186.35 1227,164.82 1232.4,143.3 1235,158.68 1236.07,158.68 1236.93,155.6 1238,155.6 1238.57,155.6 1239.43,158.68 1240,158.68 1240.57,158.68 1241.43,155.6 1242,155.6 1243.6,167.9 1247.57,167.9 1248.43,170.97 1252.57,170.97 1253.43,174.05 1256.57,174.05 1257.43,177.12 1262.57,177.12 1263.43,180.2 1269.57,180.2 1270.43,183.28 1275,183.28 1277,164.82 1282.4,143.3 1284.4,155.6 1300.57,155.6 1301.43,152.53 1307,152.53 1308,164.82 1311.57,164.82 1312.43,167.9 1314.57,167.9 1315.43,170.97 1319.57,170.97 1320.43,174.05 1325.57,174.05 1326.43,177.12 1332.57,177.12 1333.43,180.2 1337,180.2 1339,161.75 1341,149.45 1341.34,149.45 1342.2,146.38 1342.87,146.38 1343.73,143.3 1344.4,143.3 1345.26,140.22 1345.6,140.22 1348.4,155.6 1351,155.6 1351.57,155.6 1352.43,152.53 1390.57,152.53 1391.43,149.45 1397.8,149.45 1398.6,143.3 1399.4,149.45 1415.17,149.45 1416.03,146.38 1418,146.38 1418.8,149.45 1419.6,158.68 1420,161.75 1423.57,161.75 1424.43,164.82 1428.57,164.82 1429.43,167.9 1432.57,167.9 1433.43,170.97 1437.57,170.97 1438.43,174.05 1441.57,174.05 1442.43,177.12 1447,177.12 1449,158.68 1451,146.38 1451.34,146.38 1452.2,143.3 1452.87,143.3 1453.73,140.22 1454.4,140.22 1455.26,137.15 1455.6,137.15 1458,149.45 1468.57,149.45 1469.43,152.53 1485,152.53 1508,152.53 1509.4,143.3 1510.6,152.53 1511.57,152.53 1512.43,149.45 1560.4,149.45 1561.4,143.3 1562.4,149.45 1612.6,149.45 1613.6,143.3 1614.6,149.45 1664.8,149.45 1666,143.3 1667.6,149.45 1670.4,158.68 1670.77,158.68 1671.63,155.6 1672,155.6 1677.6,155.6 1678.4,149.45 1678.8,155.6 1679.6,152.53 1682.57,152.53 1683.43,155.6 1698.57,155.6 1699.43,158.68 1705.57,158.68 1706.43,161.75 1711.57,161.75 1712.43,164.82 1726.57,164.82 1727.43,167.9 1738.6,167.9 1739.4,174.05 1740.2,170.97 1770.57,170.97 1771.43,174.05 1798,174.05"/>
<text x="36" y="74.6" text-anchor="end" font-size="16" fill="#444444">60</text>
<text x="36" y="136.1" text-anchor="end" font-size="16" fill="#444444">40</text>
<text x="36" y="197.6" text-anchor="end" font-size="16" fill="#444444">20</text>
<text x="36" y="259.1" text-anchor="end" font-size="16" fill="#444444">0</text>
<text x="36" y="320.6" text-anchor="end" font-size="16" fill="#444444">-20</text>
<text x="52.83" y="338.5" text-anchor="end" font-size="16" fill="#222222" transform="rotate(-30 52.83 338.5)">00:00</text>
<text x="89.362" y="338.5" text-anchor="end" font-size="16" fill="#222222" transform="rotate(-30 89.362 338.5)">00:42</text>
<text x="125.894" y="338.5" text-anchor="end" font-size="16" fill="#222222" transform="rotate(-30 125.894 338.5)">01:24</text>
<text x="162.426" y="338.5" text-anchor="end" font-size="16" fill="#222222" transform="rotate(-30 162.426 338.5)">02:06</text>
<text x="198.958" y="338.5" text-anchor="end" font-size="16" fill="#222222" transform="rotate(-30 198.958 338.5)">02:48</text>
<text x="235.49" y="338.5" text-anchor="end" font-size="16" fill="#222222" transform="rotate(-30 235.49 338.5)">03:30</text>
<text x="272.022" y="338.5" text-anchor="end" font-size="16" fill="#222222" transform="rotate(-30 272.022 338.5)">04:12</text>
<text x="308.554" y="338.5" text-anchor="end" font-size="16" fill="#222222" transform="rotate(-30 308.554 338.5)">04:54</text>
<text x="345.086" y="338.5" text-anchor="end" font-size="16" fill="#222222" transform="rotate(-30 345.086 338.5)">05:36</text>
<text x="381.618" y="338.5" text-anchor="end" font-size="16" fill="#222222" transform="rotate(-30 381.618 338.5)">06:18</text>
<text x="418.15" y="338.5" text-anchor="end" font-size="16" fill="#222222" transform="rotate(-30 418.15 338.5)">07:00</text>
<text x="454.682" y="338.5" text-anchor="end" font-size="16" fill="#222222" transform="rotate(-30 454.682 338.5)">07:42</text>
<text x="491.214" y="338.5" text-anchor="end" font-size="16" fill="#222222" transform="rotate(-30 491.214 338.5)">08:24</text>
<text x="527.746" y="338.5" text-anchor="end" font-size="16" fill="#222222" transform="rotate(-30 527.746 338.5)">09:06</text>
<text x="564.278" y="338.5" text-anchor="end" font-size="16" fill="#222222" transform="rotate(-30 564.278 338.5)">09:48</text>
<text x="600.81" y="338.5" text-anchor="end" font-size="16" fill="#222222" transform="rotate(-30 600.81 338.5)">10:30</text>
<text x="637.342" y="338.5" text-anchor="end" font-size="16" fill="#222222" transform="rotate(-30 637.342 338.5)">11:12</text>
<text x="673.874" y="338.5" text-anchor="end" font-size="16" fill="#222222" transform="rotate(-30 673.874 338.5)">11:54</text>
<text x="710.406" y="338.5" text-anchor="end" font-size="16" fill="#222222" transform="rotate(-30 710.406 338.5)">12:36</text>
<text x="746.938" y="338.5" text-anchor="end" font-size="16" fill="#222222" transform="rotate(-30 746.938 338.5)">13:18</text>
<text x="783.47" y="338.5" text-anchor="end" font-size="16" fill="#222222" transform="rotate(-30 783.47 338.5)">14:00</text>
<text x="820.002" y="338.5" text-anchor="end" font-size="16" fill="#222222" transform="rotate(-30 820.002 338.5)">14:42</text>
<text x="856.534" y="338.5" text-anchor="end" font-size="16" fill="#222222" transform="rotate(-30 856.534 338.5)">15:24</text>
<text x="893.066" y="338.5" text-anchor="end" font-size="16" fill="#222222" transform="rotate(-30 893.066 338.5)">16:06</text>
<text x="929.598" y="338.5" text-anchor="end" font-size="16" fill="#222222" transform="rotate(-30 929.598 338.5)">16:48</text>
<text x="966.13" y="338.5" text-anchor="end" font-size="16" fill="#222222" transform="rotate(-30 966.13 338.5)">17:30</text>
<text x="1002.66" y="338.5" text-anchor="end" font-size="16" fill="#222222" transform="rotate(-30 1002.66 338.5)">18:12</text>
<text x="1039.19" y="338.5" text-anchor="end" font-size="16" fill="#222222" transform="rotate(-30 1039.19 338.5)">18:54</text>
<text x="1075.73" y="338.5" text-anchor="end" font-size="16" fill="#222222" transform="rotate(-30 1075.73 338.5)">19:36</text>
<text x="1112.26" y="338.5" text-anchor="end" font-size="16" fill="#222222" transform="rotate(-30 1112.26 338.5)">20:18</text>
<text x="1148.79" y="338.5" text-anchor="end" font-size="16" fill="#222222" transform="rotate(-30 1148.79 338.5)">21:00</text>
<text x="1185.32" y="338.5" text-anchor="end" font-size="16" fill="#222222" transform="rotate(-30 1185.32 338.5)">21:42</text>
<text x="1221.85" y="338.5" text-anchor="end" font-size="16" fill="#222222" transform="rotate(-30 1221.85 338.5)">22:24</text>
<text x="1258.39" y="338.5" text-anchor="end" font-size="16" fill="#222222" transform="rotate(-30 1258.39 338.5)">23:06</text>
<text x="1294.92" y="338.5" text-anchor="end" font-size="16" fill="#222222" transform="rotate(-30 1294.92 338.5)">23:48</text>
<text x="1331.45" y="338.5" text-anchor="end" font-size="16" fill="#222222" transform="rotate(-30 1331.45 338.5)">00:30</text>
<text x="1367.98" y="338.5" text-anchor="end" font-size="16" fill="#222222" transform="rotate(-30 1367.98 338.5)">01:12</text>
<text x="1404.51" y="338.5" text-anchor="end" font-size="16" fill="#222222" transform="rotate(-30 1404.51 338.5)">01:54</text>
<text x="1441.05" y="338.5" text-anchor="end" font-size="16" fill="#222222" transform="rotate(-30 1441.05 338.5)">02:36</text>
<text x="1477.58" y="338.5" text-anchor="end" font-size="16" fill="#222222" transform="rotate(-30 1477.58 338.5)">03:18</text>
<text x="1514.11" y="338.5" text-anchor="end" font-size="16" fill="#222222" transform="rotate(-30 1514.11 338.5)">04:00</text>
<text x="1550.64" y="338.5" text-anchor="end" font-size="16" fill="#222222" transform="rotate(-30 1550.64 338.5)">04:42</text>
<text x="1587.17" y="338.5" text-anchor="end" font-size="16" fill="#222222" transform="rotate(-30 1587.17 338.5)">05:24</text>
<text x="1623.71" y="338.5" text-anchor="end" font-size="16" fill="#222222" transform="rotate(-30 1623.71 338.5)">06:06</text>
<text x="1660.24" y="338.5" text-anchor="end" font-size="16" fill="#222222" transform="rotate(-30 1660.24 338.5)">06:48</text>
<text x="1696.77" y="338.5" text-anchor="end" font-size="16" fill="#222222" transform="rotate(-30 1696.77 338.5)">07:30</text>
<text x="1733.3" y="338.5" text-anchor="end" font-size="16" fill="#222222" transform="rotate(-30 1733.3 338.5)">08:12</text>
<text x="1769.83" y="338.5" text-anchor="end" font-size="16" fill="#222222" transform="rotate(-30 1769.83 338.5)">08:54</text>
</svg>
</body></html>
